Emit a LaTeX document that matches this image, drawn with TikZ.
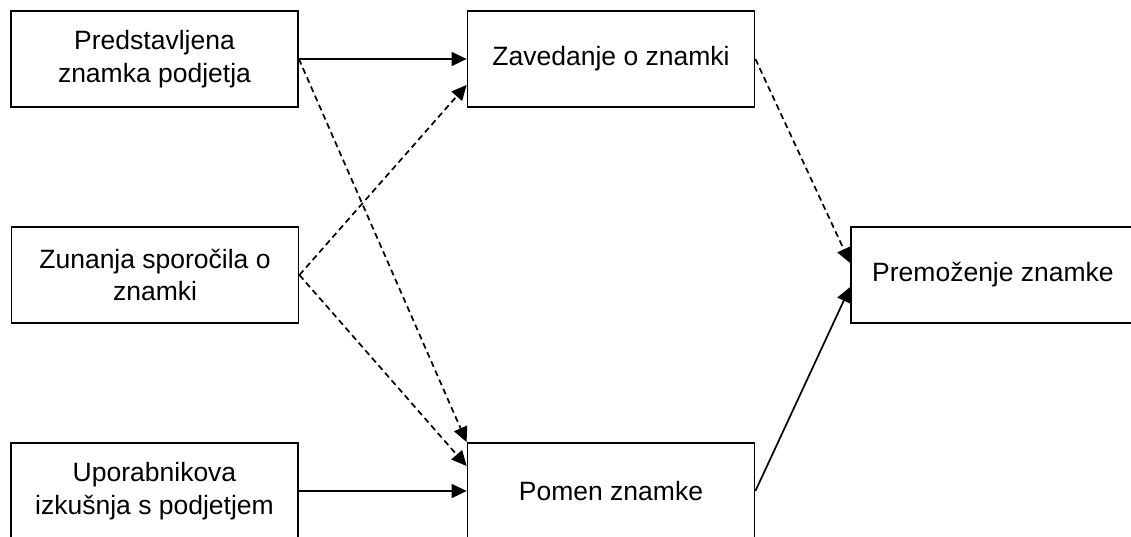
\documentclass[tikz,border=0pt]{standalone}
\usepackage{fontspec}
\setmainfont{Liberation Sans}
\usetikzlibrary{arrows.meta}
\begin{document}
\begin{tikzpicture}[x=1pt,y=-1pt,
  box/.style={draw, line width=1.8pt, minimum width=287pt, minimum height=96pt,
    inner sep=0pt, align=center, font=\fontsize{26.5}{32.5}\selectfont},
  link/.style={line width=1.7pt, -{Triangle[length=15pt,width=14pt]}},
  hint/.style={link, dash pattern=on 6pt off 4pt}]
\useasboundingbox (0,0) rectangle (1131,536);
\fill[white] (0,0) rectangle (1131,536);
\clip (0,0) rectangle (1131,536);

% sources
\node[box] (pz) at (154.5,59)  {Predstavljena\\znamka podjetja};
\node[box] (zs) at (155,275)   {Zunanja sporočila o\\znamki};
\node[box] (ui) at (154.5,491) {Uporabnikova\\izkušnja s podjetjem};

% intermediate constructs
\node[box] (zz) at (611,59)  {Zavedanje o znamki};
\node[box] (pm) at (611,491) {Pomen znamke};

% outcome
\node[box, minimum width=284pt] (pr) at (993,275) {Premoženje znamke};

% direct (solid) links
\draw[link] (pz.east) -- (zz.west);
\draw[link] (ui.east) -- (pm.west);
\draw[link] (pm.east) -- ([yshift=-12pt]pr.west);

% indirect (dashed) links
\draw[hint] (pz.east) -- (pm.north west);
\draw[hint] (zs.east) -- ([yshift=-26pt]zz.west);
\draw[hint] (zs.east) -- ([yshift=25pt]pm.west);
\draw[hint] (zz.east) -- ([yshift=12pt]pr.west);
\end{tikzpicture}
\end{document}
